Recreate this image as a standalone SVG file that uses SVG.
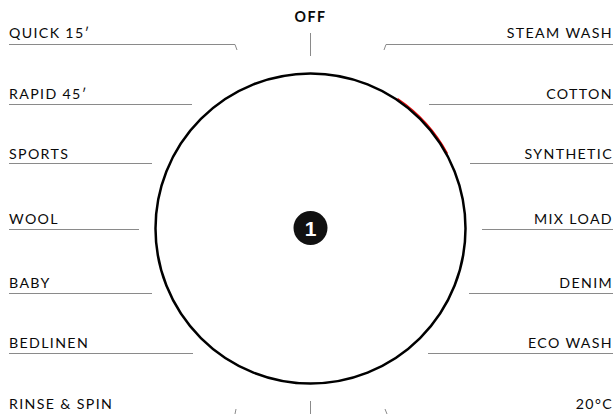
<svg xmlns="http://www.w3.org/2000/svg" width="616" height="414" viewBox="0 0 616 414">
<style>
.lbl{font-family:Lato,"Open Sans",sans-serif;font-size:14.2px;letter-spacing:1.35px;fill:#0a0a0a}
.r{text-anchor:end}
.ln{stroke:#8a8a8a;stroke-width:1;fill:none}
</style>
<rect width="616" height="414" fill="#fff"/>
<g id="connectors">
<path class="ln" d="M9 44.5H235L237 50"/>
<path class="ln" d="M9 104.5H192"/>
<path class="ln" d="M9 163.5H152"/>
<path class="ln" d="M9 229.5H139"/>
<path class="ln" d="M9 293.5H152"/>
<path class="ln" d="M9 353.5H193"/>
<path class="ln" d="M310.5 33V56"/>
<path class="ln" d="M613 44.5H386L384 50"/>
<path class="ln" d="M613 104.5H429"/>
<path class="ln" d="M613 163.5H470"/>
<path class="ln" d="M613 229.5H482"/>
<path class="ln" d="M613 293.5H469"/>
<path class="ln" d="M613 353.5H428"/>
<path class="ln" d="M310.5 401V414"/>
<path class="ln" d="M236 409L235 414"/>
<path class="ln" d="M385 409L387 414"/>
</g>
<g id="dial">
<path d="M397 99A156.4 156.4 0 0 1 447 154" fill="none" stroke="#e00" stroke-width="1.2" transform="translate(0.6,-0.5)"/>
<circle cx="310.5" cy="228.5" r="155" fill="none" stroke="#000" stroke-width="2.5"/>
</g>
<g id="badge">
<circle cx="310.5" cy="228" r="17" fill="#111"/>
<text x="310.5" y="235.5" text-anchor="middle" style="font-family:'Liberation Sans',Arial,sans-serif;font-weight:bold;font-size:21px;fill:#fff">1</text>
</g>
<g id="off"><text class="lbl" x="310.5" y="22" text-anchor="middle" style="font-weight:bold;letter-spacing:1.5px">OFF</text></g>
<g id="quick"><text class="lbl" x="9" y="38">QUICK 15′</text></g>
<g id="rapid"><text class="lbl" x="9" y="99">RAPID 45′</text></g>
<g id="sports"><text class="lbl" x="9" y="159">SPORTS</text></g>
<g id="wool"><text class="lbl" x="9" y="224">WOOL</text></g>
<g id="baby"><text class="lbl" x="9" y="288">BABY</text></g>
<g id="bedlinen"><text class="lbl" x="9" y="348">BEDLINEN</text></g>
<g id="rinse"><text class="lbl" x="9" y="409">RINSE &amp; SPIN</text></g>
<g id="steam"><text class="lbl r" x="613" y="38">STEAM WASH</text></g>
<g id="cotton"><text class="lbl r" x="613" y="99">COTTON</text></g>
<g id="synthetic"><text class="lbl r" x="613" y="159">SYNTHETIC</text></g>
<g id="mixload"><text class="lbl r" x="613" y="224">MIX LOAD</text></g>
<g id="denim"><text class="lbl r" x="613" y="288">DENIM</text></g>
<g id="eco"><text class="lbl r" x="613" y="348">ECO WASH</text></g>
<g id="t20"><text class="lbl r" x="613" y="409">20°C</text></g>
</svg>
